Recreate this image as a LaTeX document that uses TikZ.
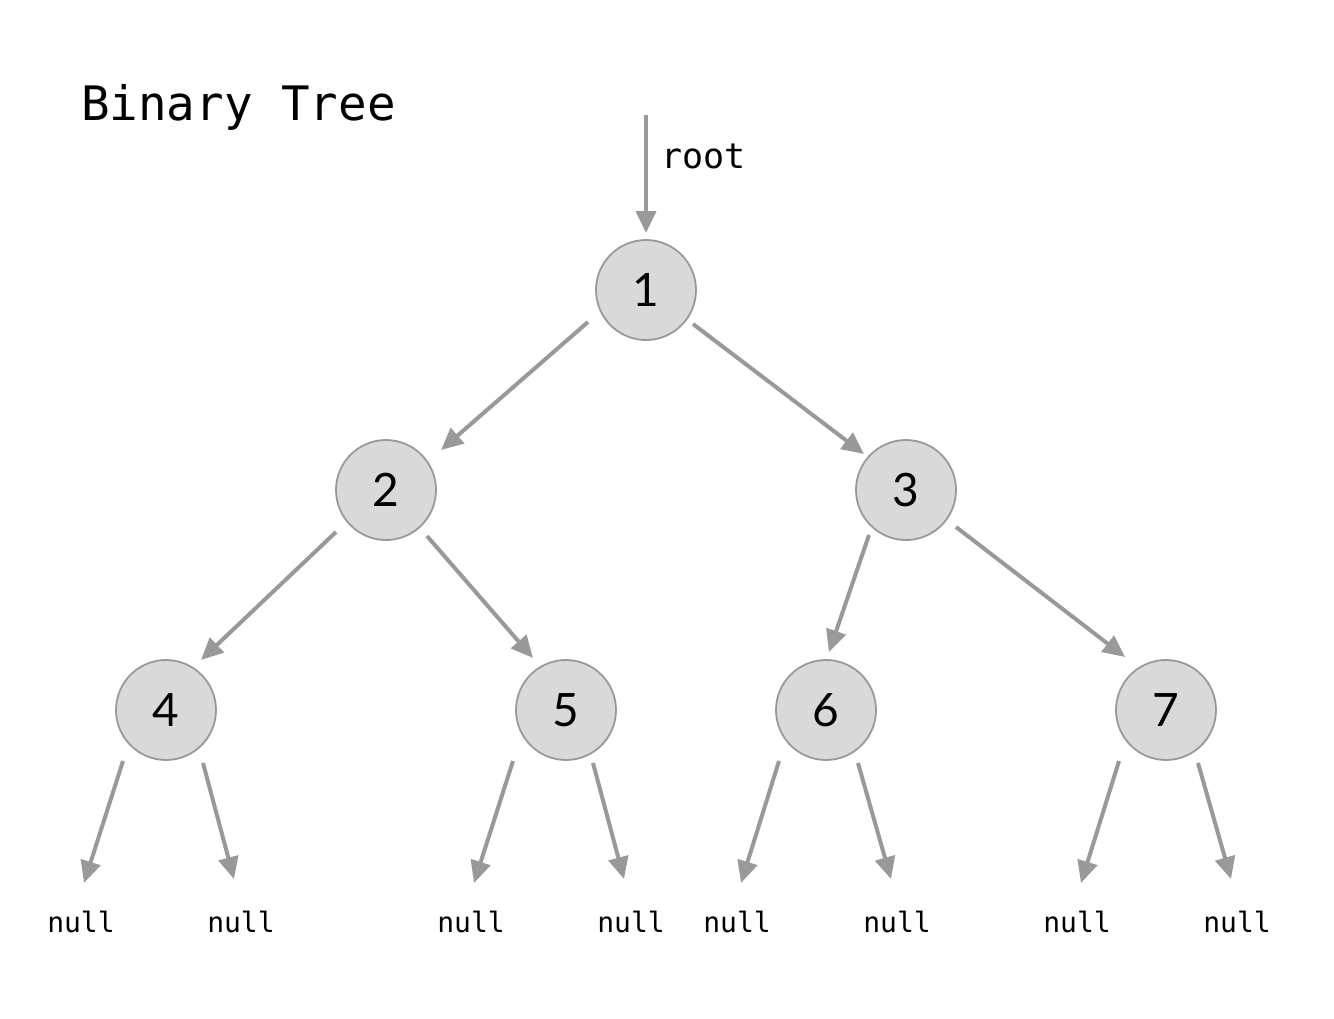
\documentclass[tikz,border=0pt]{standalone}
\usepackage{fontspec}
\setmonofont{DejaVu Sans Mono}
\newfontfamily\digitfont{Lato}
\usetikzlibrary{arrows.meta,calc}
\definecolor{edgegray}{HTML}{999999}
\definecolor{nodefill}{HTML}{D9D9D9}
\begin{document}
\begin{tikzpicture}[x=1pt,y=-1pt,
  treenode/.style={circle, draw=edgegray, line width=1.8pt, fill=nodefill, minimum size=100pt, inner sep=0pt, font=\digitfont\fontsize{46}{50}\selectfont},
  arr/.style={draw=edgegray, line width=4pt, -{Triangle[length=22pt,width=20pt]}, edgegray},
  nulltext/.style={font=\ttfamily\fontsize{28}{30}\selectfont, anchor=base, inner sep=0pt},
  ]
\useasboundingbox (0,0) rectangle (1334,1018);
\node[font=\ttfamily\fontsize{47.5}{50}\selectfont, anchor=base west, inner sep=0pt] (title) at (81,120) {Binary Tree};
\node[treenode] (n1) at (646,290) {1};
\node[treenode] (n2) at (386,490) {2};
\node[treenode] (n3) at (906,490) {3};
\node[treenode] (n4) at (166,710) {4};
\node[treenode] (n5) at (566,710) {5};
\node[treenode] (n6) at (826,710) {6};
\node[treenode] (n7) at (1166,710) {7};
\coordinate (rootstart) at (646,115);
\node[font=\ttfamily\fontsize{35}{38}\selectfont, anchor=base west, inner sep=0pt] (rootlabel) at (661,168) {root};
\draw[arr] (rootstart) -- ($(n1)+(0,-57)$);
\draw[arr] ($(n1)+(-58,32)$) -- ($(n2)+(55,-40)$);
\draw[arr] ($(n1)+(47,34)$) -- ($(n3)+(-42,-36)$);
\draw[arr] ($(n2)+(-50,42)$) -- ($(n4)+(35,-50)$);
\draw[arr] ($(n2)+(41,46)$) -- ($(n5)+(-33,-52)$);
\draw[arr] ($(n3)+(-37,45)$) -- ($(n6)+(3,-58)$);
\draw[arr] ($(n3)+(50,37)$) -- ($(n7)+(-41,-53)$);
% null ends
\foreach \n/\la/\lb/\ra/\rb in {4/-43/-82/37/68, 5/-53/-92/27/58, 6/-47/-85/32/65, 7/-47/-85/32/65}{
  \coordinate (l\n b) at ($(n\n)+(\lb,173)$);
  \coordinate (r\n b) at ($(n\n)+(\rb,169)$);
  \draw[arr] ($(n\n)+(\la,51)$) -- (l\n b);
  \draw[arr] ($(n\n)+(\ra,53)$) -- (r\n b);
}
\node[nulltext] (null1) at (81,932) {null};
\node[nulltext] (null2) at (241,932) {null};
\node[nulltext] (null3) at (471,932) {null};
\node[nulltext] (null4) at (631,932) {null};
\node[nulltext] (null5) at (737,932) {null};
\node[nulltext] (null6) at (897,932) {null};
\node[nulltext] (null7) at (1077,932) {null};
\node[nulltext] (null8) at (1237,932) {null};
\end{tikzpicture}
\end{document}
